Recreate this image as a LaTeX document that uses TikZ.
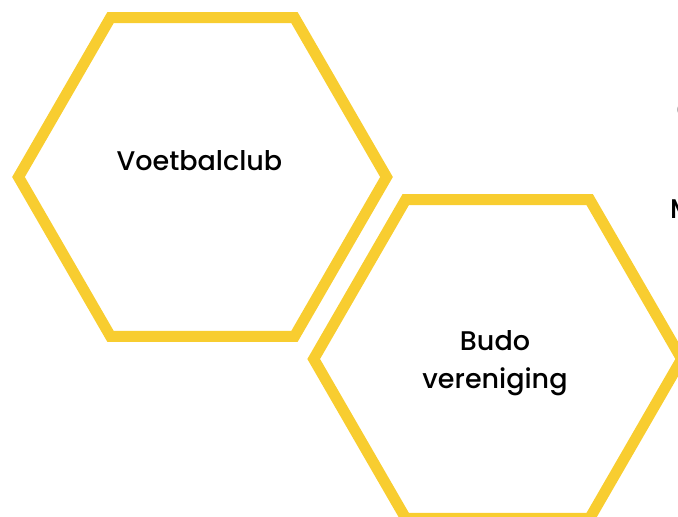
\documentclass[tikz,border=0pt]{standalone}
\usepackage{fontspec}
\setmainfont{Poppins Medium}
\definecolor{hexyellow}{RGB}{248,205,48}
\tikzset{
  hexline/.style={draw=hexyellow, line width=11pt, line join=miter},
  label/.style={font=\fontsize{27}{38}\selectfont, text=black, align=center, inner sep=0pt}
}
\begin{document}
\begin{tikzpicture}[x=1pt,y=-1pt]
\useasboundingbox (0,0) rectangle (678,517);
\clip (0,0) rectangle (678,517);
% hexagon 1
\draw[hexline] (202.5,177) ++(0:184) -- ++(120:184) -- ++(180:184) -- ++(240:184) -- ++(300:184) -- ++(0:184) -- cycle;
% hexagon 2
\draw[hexline] (497.7,359) ++(0:184) -- ++(120:184) -- ++(180:184) -- ++(240:184) -- ++(300:184) -- ++(0:184) -- cycle;
\node[label] (voet) at (199.5,160.5) {Voetbalclub};
\node[label] (budo) at (495,363) {Budo\\vereniging};
\node[label, anchor=base west] (m) at (670,218) {M};
\node[label, anchor=base west, text=black!60] (o) at (676.5,119) {O};
\end{tikzpicture}
\end{document}
